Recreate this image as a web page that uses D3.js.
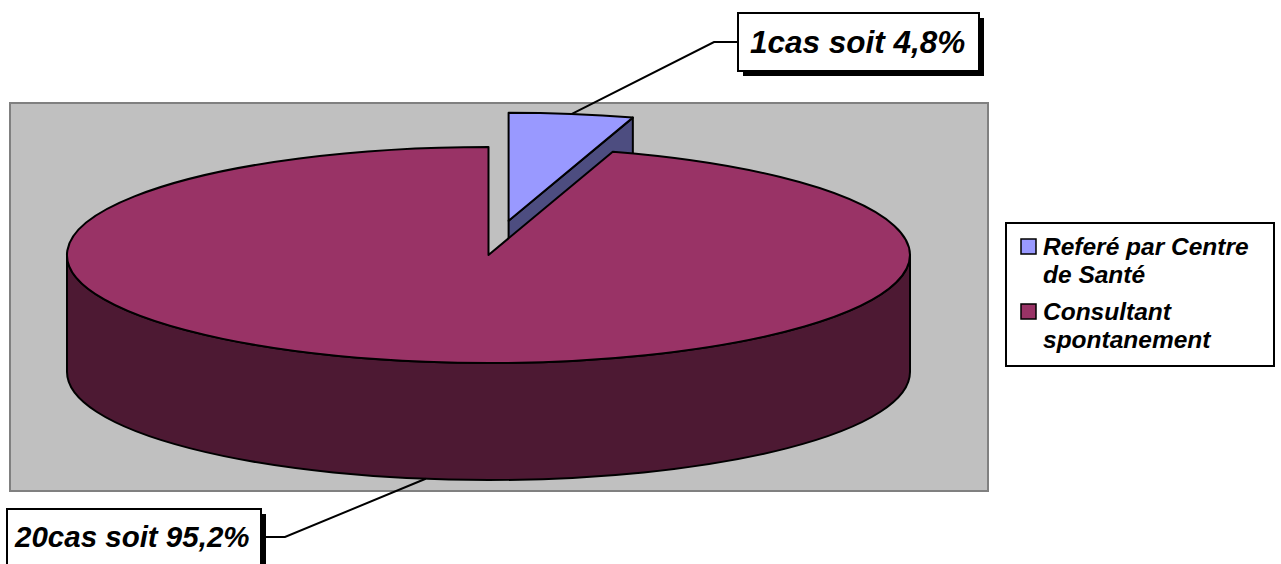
<!DOCTYPE html>
<html>
<head>
<meta charset="utf-8">
<script src="https://cdn.jsdelivr.net/npm/d3@7"></script>
<style>
  body { margin: 0; background: #fff; }
  svg { display: block; }
  text { font-family: Arial, "Liberation Sans", sans-serif; font-weight: bold; font-style: italic; }
</style>
</head>
<body>
<svg width="1281" height="564"></svg>
<script>
// données
const categories = ['Referé par Centre de Santé', 'Consultant spontanement']
const legendLines = [['Referé par Centre', 'de Santé'], ['Consultant', 'spontanement']]
const counts = [1, 20]
const labels = ['1cas soit 4,8%', '20cas soit 95,2%']
const explode = [0.32, 0]
const topColors = ['#9999ff', '#993366']
const sideColors = ['#4d4d80', '#4d1933']

const svg = d3.select('svg')

// zone de tracé grise
svg.append('rect')
  .attr('x', 10).attr('y', 103)
  .attr('width', 978).attr('height', 388)
  .attr('fill', '#c0c0c0')
  .attr('stroke', '#808080')
  .attr('stroke-width', 2)

// géométrie du camembert 3D
const cx = 488.5, cy = 255, rx = 421.5, ry = 108, depth = 117
const xs = d3.scaleLinear().domain([-1, 1]).range([cx - rx, cx + rx])
const ys = d3.scaleLinear().domain([-1, 1]).range([cy - ry, cy + ry])

const pie = d3.pie().sort(null).value(d => d)
const arcs = pie(counts)

// point sur l'ellipse (angle d3 : 0 en haut, sens horaire)
const pt = (a, r, o, z) => [xs(r * Math.sin(a)) + o[0], ys(-r * Math.cos(a)) + o[1] + z]
const P = p => p[0].toFixed(2) + ',' + p[1].toFixed(2)

arcs.forEach((d, i) => {
  const mid = (d.startAngle + d.endAngle) / 2
  d.off = [xs(explode[i] * Math.sin(mid)) - cx, ys(-explode[i] * Math.cos(mid)) - cy]
  d.mid = mid
})

const g = svg.append('g')
  .attr('stroke', '#000')
  .attr('stroke-width', 2)
  .attr('stroke-linejoin', 'round')

// dessiner la part du fond d'abord (part éclatée), puis la grande part
arcs.forEach((d, i) => {
  const s = d.startAngle, e = d.endAngle, o = d.off
  const large = (e - s) > Math.PI ? 1 : 0
  const c0 = pt(0, 0, o, 0)

  // face coupée à la fin de la part (visible si elle regarde vers l'avant)
  if (e < Math.PI / 2) {
    const a = pt(e, 1, o, 0), b = pt(e, 1, o, depth)
    g.append('path')
      .attr('d', `M${P(c0)}L${P(a)}L${P(b)}L${P(pt(0, 0, o, depth))}Z`)
      .attr('fill', sideColors[i])
  }

  // paroi extérieure avant
  const a1 = Math.max(s, Math.PI / 2), a2 = Math.min(e, 3 * Math.PI / 2)
  if (a2 > a1) {
    const t1 = pt(a1, 1, o, 0), t2 = pt(a2, 1, o, 0)
    const b1 = pt(a1, 1, o, depth), b2 = pt(a2, 1, o, depth)
    g.append('path')
      .attr('d', `M${P(t1)}A${rx},${ry} 0 0 1 ${P(t2)}L${P(b2)}A${rx},${ry} 0 0 0 ${P(b1)}Z`)
      .attr('fill', sideColors[i])
  }

  // face supérieure
  g.append('path')
    .attr('d', `M${P(c0)}L${P(pt(s, 1, o, 0))}A${rx},${ry} 0 ${large} 1 ${P(pt(e, 1, o, 0))}Z`)
    .attr('fill', topColors[i])
})

// étiquettes avec ombre
const labelBoxes = [
  { x: 738, y: 13, w: 241, h: 58, tx: 750, ty: 53, size: 31.5, elbow: [714, 42], side: 'left' },
  { x: 7, y: 509, w: 254, h: 58, tx: 15, ty: 547, size: 29.5, elbow: [285, 537], side: 'right' }
]

arcs.forEach((d, i) => {
  const b = labelBoxes[i]
  // ancre : milieu de l'arc (haut pour la part arrière, bas pour l'avant)
  const front = Math.cos(d.mid) < 0
  const anchor = pt(d.mid, 1, d.off, front ? depth : 0)
  const start = b.side === 'left' ? [b.x, b.elbow[1]] : [b.x + b.w, b.elbow[1]]
  svg.append('path')
    .attr('d', `M${P(start)}L${P(b.elbow)}L${P(anchor)}`)
    .attr('fill', 'none')
    .attr('stroke', '#000')
    .attr('stroke-width', 2)

  svg.append('rect')
    .attr('x', b.x + 5).attr('y', b.y + 5)
    .attr('width', b.w).attr('height', b.h)
    .attr('fill', '#000')
  svg.append('rect')
    .attr('x', b.x).attr('y', b.y)
    .attr('width', b.w).attr('height', b.h)
    .attr('fill', '#fff')
    .attr('stroke', '#000')
    .attr('stroke-width', 2)
  svg.append('text')
    .attr('x', b.tx).attr('y', b.ty)
    .attr('font-size', b.size)
    .attr('fill', '#000')
    .text(labels[i])
})

// légende
const legend = svg.append('g')
legend.append('rect')
  .attr('x', 1006).attr('y', 223)
  .attr('width', 268).attr('height', 143)
  .attr('fill', '#fff')
  .attr('stroke', '#000')
  .attr('stroke-width', 2)

const legendY = [255, 320]
categories.forEach((c, i) => {
  legend.append('rect')
    .attr('x', 1021).attr('y', legendY[i] - 16)
    .attr('width', 15).attr('height', 15)
    .attr('fill', topColors[i])
    .attr('stroke', '#000')
    .attr('stroke-width', 1.5)
  const t = legend.append('text')
    .attr('x', 1043).attr('y', legendY[i])
    .attr('font-size', 24.5)
    .attr('fill', '#000')
  legendLines[i].forEach((line, j) => {
    t.append('tspan')
      .attr('x', 1043)
      .attr('dy', j === 0 ? 0 : 28)
      .text(line)
  })
})
</script>
</body>
</html>
